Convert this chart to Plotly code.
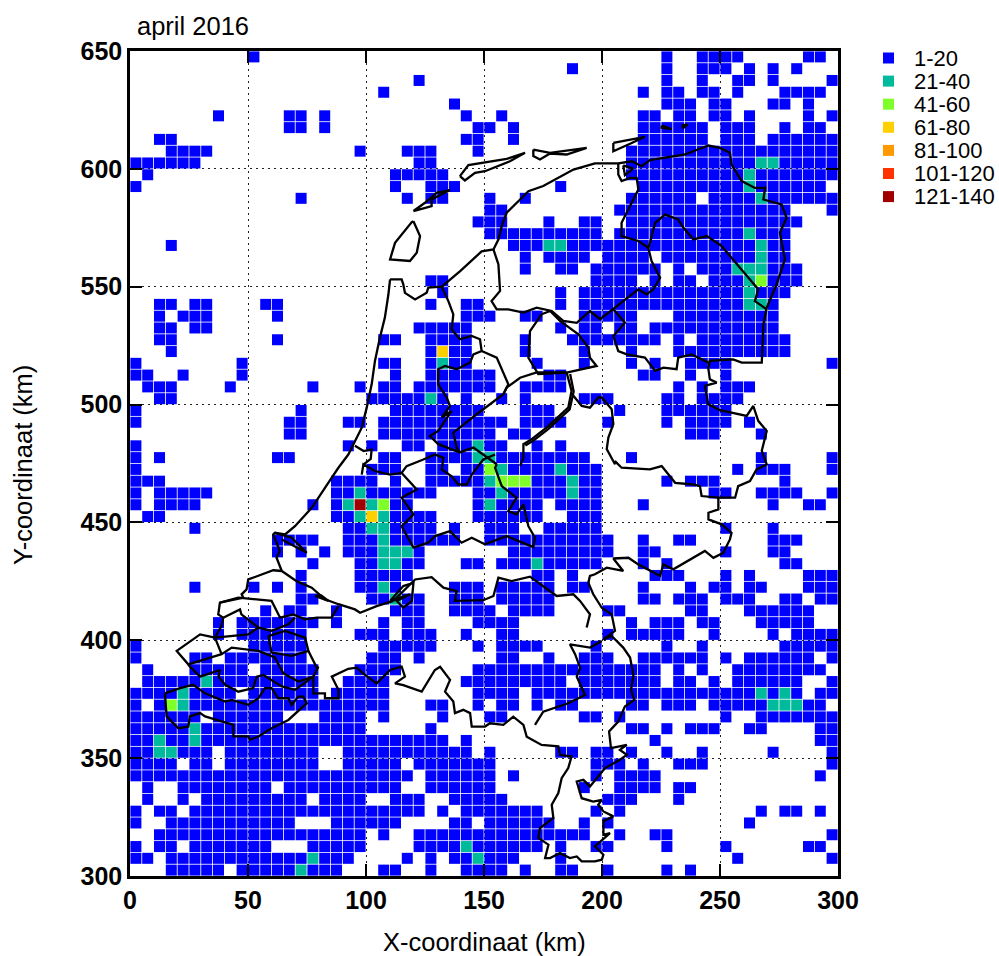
import plotly.graph_objects as go

# Cell size in km; columns count from x=0, rows count down from y=650.
CELL_KM = 5
class_labels = ["1-20", "21-40", "41-60", "61-80", "81-100", "101-120", "121-140"]
class_colors = ["#0000FF", "#00BB9B", "#7FFF2A", "#FFD000", "#FF9900", "#FF3300", "#A00000"]

# Occupied columns per row (top row first); values are column indices / ranges
occupied_rows = [
    "10 45 48-51 57 58", "37 45 48-50 52 54 56", "24 45 48 51 52 54 59", "21 43 45 46 48 49 51 55-58",
    "27 45-47 49 50 54 55 57", "7 13 14 16 28 31 43 44 46 47 49 50 52 57 59",
    "13 14 16 29 30 32 43-48 50-52 55 57 58", "2 3 28 29 32 43-48 50-52 54-59",
    "3-6 19 23-25 29 42-59", "0-5 24 25 42-59", "1 22-26 42-59", "0 22 25-27 36 43-58",
    "14 23 25 26 30 33 42-47 49-59", "30 31 41-55 59", "29-31 35 38 39 42-56", "30-39 41-55",
    "3 32-55", "33 35-38 40-43 45-55", "33 36 37 39-44 46 48-56", "25 26 39-42 44 46 47 49-56",
    "26 36 38-55", "2 3 5 6 11 12 25 28 29 36 38-54", "2 4-6 12 28-30 33 34 38-42 46-54",
    "2 3 5 6 24-28 36 38 39 41 42 44-54", "2 3 12 21 22 25-28 33 37-44 46 48-55",
    "3 25-28 33 38 42 46-55", "0 9 21 22 25-28 34 38 42 44 47-50 59", "0 1 4 9 22 25-30 35 36 43 44 47 50",
    "1-3 8 15 19 21 22 24-30 33-36 46 48 50-52", "2 3 20-26 28 31 33 38-40 45 46 48-51",
    "0 14 22-29 33-35 41 45-50", "0 13 14 18 19 21-31 33-36 40 45 47-50 52", "13 14 21-30 32 33 47-49 53",
    "0 18 20 23 24 26-31 34 36", "0 2 12 13 21 22 25-38 42 53 59",
    "0 20-22 25 26 28-39 51 53-55 59", "0-2 17-20 22 25-39 45 47-49 55",
    "0 2-6 17-25 29-39 49 50 53-56 59", "0 2-5 15 17-23 29-34 36-39 43 54 57 58",
    "1 2 17-25 29-34 37-39", "5 18-25 27 30-32 35-39 50 54", "12-15 18-27 30-40 43 46 47 54-56",
    "12 14 16 18-24 32-40 43 44 50 54 55", "15 19-24 28 29 31-39 43 45 55 56",
    "14 19-23 34 35 37 44-46 50 52 57-59", "5 10 12 14 19-22 27-29 31-35 37 38 43 47 49 50 52 53 57-59",
    "14 15 20-24 27-29 31-35 43 44 46-48 50-52 55 56 58 59", "11 13 14 17 22-24 27-30 32-35 40 41 47 48 52-57",
    "7 9-15 17 21 23 24 29-32 42 44-46 48 49 53-57", "7 9-14 19-21 23-25 28 31 32 40 42-46 49 54 56-59",
    "0 10-14 21-25 29 31-34 39 45 48 55-59", "0 5 6 8-14 20-22 24 31 32 35 38-40 43-48 50 52-57 59",
    "1 5-9 11-15 19-22 29-44 46 48 51-58", "1-15 18-21 28-36 38-44 46 47 49 51-56 59",
    "0-8 10-15 17-21 29-32 34-56 58 59", "0 2-21 25 26 29 31 32 34 36 37 42 43 45-47 49-58",
    "0-5 7-12 16-19 21 26 30 31 38 39 41 50 53-59", "0-19 25 42 43 45 47-49 52 53 58 59",
    "0-26 28 44 58 59", "0-6 8-15 18-28 30 36 37 39 40 42 45 48 54 59",
    "0-3 5 6 8-15 18-22 24-30 39-41 43 46-48 59", "0-23 25-30 32 39 41-44 58",
    "1 4-11 13-22 25-30 38 41-44 46 47", "1 4 6-14 16-19 22-24 27-31 40-42 46",
    "0 2 3 5-24 26 28-34 39 41 53 55 56 58", "0 3-13 17-22 27 28 30-35 38 40 52",
    "2-19 21 24-38 41 44 45 59", "0 2 3 5-11 15-19 24-34 36 39 40 45 50 57 58",
    "0 1 3-18 23 25 27-32 36 51 59", "3-7 9-17 21 22 25 28-31 33 36 37 40 45 47",
]
# Cells in the higher classes: (column, row)
class_21_40 = [(53,9),(54,9),(52,10),(52,11),(53,12),(52,15),(35,16),(36,16),(53,16),(53,17),(51,18),(52,18),(53,18),
               (52,19),(52,20),(52,21),(53,21),(26,26),(25,29),(29,33),(29,34),(30,34),(31,35),(36,35),(30,36),(37,36),
               (19,37),(31,37),(37,37),(18,38),(20,38),(30,38),(19,39),(21,39),(20,40),(21,40),(21,41),(21,42),(22,42),
               (23,42),(21,43),(22,43),(34,43),(21,45),(22,46),(6,53),(4,54),(53,54),(55,54),(4,55),(54,55),(55,55),
               (56,55),(5,57),(2,58),(5,58),(2,59),(3,59),(28,67),(15,68),(29,68),(14,69)]
class_41_60 = [(53,19),(30,35),(31,36),(32,36),(33,36),(21,38),(3,55)]
class_61_80 = [(26,25),(20,39)]
class_81_100 = []
class_101_120 = []
class_121_140 = [(19,38)]

# Outlines in km (x, y)
coast_holland = [(110.2,553.1),(109.5,546.8),(108,536.9),(105.9,528.4),(103.8,518.5),(102.4,508.6),(100.3,498.7),(98.2,490.2),
    (92.5,478.8),(88.3,473.2),(82.6,464.7),(77,456.2),(69.9,448.4),(65.7,444.9),(61.4,445.6),(60.7,444.9),(63.5,437.9),(62.1,435),(64.3,429.4)]
wadden_holland = [(110.2,553.1),(115.1,553.1),(115.8,551),(116.5,547.4),(120.8,544.6),(125.7,547.4),(126.4,549.6),(132.1,550),
    (139.9,556.6),(149,565),(154,565.8),(156.1,570),(157.5,575.7),(159.6,581.4),(165.3,587),(168.8,590.5),(175.1,592.7),
    (187.9,599.7),(197,602.3),(206.9,602.3),(212.6,603.2),(216.8,601.1),(220.3,603.7),(235.2,606.1),(245.1,609.9),(250,608.9),
    (254.2,606.8),(254.9,601.8),(259.2,594.8),(264.8,591.9),(269.1,591.9),(268.4,587),(276.1,584.9),(278.2,579.2),(275.4,572.9),
    (277.5,561.6),(274,551),(269.8,541.1),(268.4,534),(267.7,517.8),(259.2,517.8),(255.6,519.2),(245.7,518.5),(245,515.7),
    (245.7,510.7),(248.6,509.3),(243.6,507.9),(245,500.1),(250,497.6),(261.3,495.2),(264.1,499.4),(266.2,493.1),(269.8,488.8),
    (267.7,480.4),(269.8,474.6),(265.5,472.5),(262.7,467.5),(257.7,465.4),(256.4,460.5),(249.3,460.5),(249.3,455.5),(245.1,454.1),
    (245.1,451.3),(250.7,449.2),(254.9,445.6),(254.2,442.8),(251.4,437.1),(247.2,435),(243.6,437.9),(230.2,430.1),(226,432.2),
    (224.6,427.3),(215.4,432.2),(211.2,435),(204.8,434.7),(209,429.4),(202,430.8),(197,428),(194.9,427.3),(194.2,424.4),(196.3,419.5),
    (199.9,413.8),(204.1,411),(204.8,406.8),(205.5,404),(200.6,400.4),(204.1,401.8),(209,396.9),(211.9,392.7),(213.3,385.3),(212.3,379),
    (213.7,374.7),(209.7,371.9),(206.9,365.5),(203,361.3),(203.8,354.2),(210.5,355.6),(207.6,353.5),(210.5,351.4),(207.6,349.3),
    (201.3,345.8),(194.9,338),(192.1,340.8),(189.3,340.1),(191.4,333),(196.3,331.6),(199.9,332.3),(198.4,330.2),(200.6,327.4),
    (204.8,325.3),(200.6,323.2),(200.6,317.5),(203.4,318.2),(197,312.6),(200.6,309),(199.9,306.9),(197,306.2),(191.4,306.2),
    (189.3,308.3),(186.4,307.6),(182.2,309.7),(178,307.6),(175.9,307.6),(177.3,313.3),(173,316.1),(173.7,320.3),(179.4,324.6),
    (178.7,330.2),(181.5,335.2),(182.9,341.5),(185.7,345.8),(187.1,350.7),(182.2,351.4),(181.5,355),(174.4,355.6),(168.1,359.1),
    (166.7,364.1),(162.4,367.6),(158.2,364.1),(152.5,364.8),(150.4,363.4),(144.8,363.4),(144.1,369.1),(141.2,370.5),(137.7,369.1),
    (137,374),(133.5,378.2),(135.6,383.2),(131.4,388.8),(129.2,387.4),(123.6,378.2),(115.8,381),(112.3,381.7),(116.5,384.6),(115.1,388.8),
    (110.2,387.4),(104.5,381.7),(99.6,385.3),(96,388.4),(92.5,387.9),(85.5,384.6),(88.3,379),(88.3,375.4),(82.6,375.4),(82.6,377.5),
    (77.7,377.5),(77.7,384.6),(70,379),(64.3,380.4),(56.5,385.3),(53.7,384.6),(52.2,379.7),(45.9,378.2),(40.3,381.1),(37.5,384.6),
    (38.2,387.4),(29.7,384.6),(24.7,389.5)]
brabant_limburg = [(171.6,364.1),(175.1,369.7),(185.7,373.3),(192.8,376.8),(189.3,384.6),(190.7,388.4),(188.6,394.1),(186.4,398.3),(194.9,396.9),(199.9,399.7)]
zeeuws_vlaanderen = [(14.8,377.5),(15.5,367.7),(20.5,362.7),(24.7,363.4),(25.4,367.7),(29.7,369.1),(31.8,367.7),(43.8,364.1),(43.8,359.2),
    (50.1,359.2),(50.8,357.8),(54.4,359.2),(60,362.7),(67.1,366.2),(74.9,373.3),(73.4,376.1),(71.3,376.1),(68.5,372.6),(67.1,375.4),(62.8,375.4),
    (60,379.7),(57.2,379.7),(54.4,375.4),(50.1,372.6),(43.1,374.7),(40.3,374),(31.8,377.5),(26.8,381.1),(21.2,379.7),(14.8,377.5)]
delta_walcheren = [(36,401.1),(29.7,402.5),(19.8,395.5),(24.7,389.8),(38.8,394.1),(43.1,396.9),(54.4,395.5),(61.4,392.7),(63.6,388.4),(65,386),(71.3,382.5),(77.7,384.6)]
delta_schouwen = [(38.8,394.1),(36,401.1),(38.8,406.1),(39.5,409.6),(37.4,411),(38.1,416),(45.9,418.1),(54.4,417.4),(60,416.7),(63.6,409.6),(69.2,411),(74.2,408.9),(79.1,409.6),(85.4,409.6),(88.3,414.5)]
delta_beveland = [(36,401.1),(50.1,402.5),(54.4,405.4),(60,404),(67.1,406.8),(69.9,409.6)]
delta_flakkee = [(39.5,409.6),(46.6,413.1),(47.2,411),(54.4,405.4)]
delta_tholen = [(58.6,401.8),(60,394.8),(68.5,393.4),(75.6,395.5),(74.2,401.1),(65.7,404),(58.6,401.8)]
delta_link = [(75.6,395.5),(79.1,388.4),(79.8,388.8),(77.7,384.6)]
delta_goeree = [(38.1,416),(48,418.1),(47.3,419.5),(49.4,421.6),(50.1,425.8),(60.7,429.7),(64.3,429.4),(70.6,425.1),(77,422.3),(82.6,417.4),(88.3,415.3),(95.3,413.1),(97.5,411.7),(104.5,414.5),(111.6,416.7)]
delta_island = [(78.4,418.8),(84.1,416.7),(81,419),(78.4,418.8)]
waterweg = [(61.4,445.6),(68.5,443.5),(74.9,437.1),(64.3,442.8)]
biesbosch = [(110.2,416.7),(115.8,423),(120.1,424.4),(119.4,416.7),(115.8,413.8),(113,416.7),(118.6,419.5),(110.2,416.7)]
maas_waal = [(111.6,416.7),(120.8,425.8),(127.8,426.8),(132.8,422.3),(138.4,420.9),(137.7,416.7),(149.7,417),(154,418.8),(156.1,426.6),
    (161.7,425.1),(169.5,427),(180.8,418.8),(187.9,419.5),(190.7,416.7),(194.9,411),(193.5,405.4)]
utrecht_north = [(98.2,470.3),(98.9,474.6),(103.8,471.8),(110.2,470.3),(115.1,471),(121.5,464),(115.1,460.5),(120.1,453.4),(115.1,448.4),(120.1,439.3),
    (126.4,441.4),(129.2,444.2),(135.6,446.3),(140.5,441.4),(144.8,443.5),(150.4,440.7),(159.6,444.2),(170.9,439.5),(171.6,443.5),(168.8,448.4),
    (166.7,457.6),(163.8,453.4),(160.3,454.8),(163.8,460.5),(157.5,465.4),(154.7,473.2),(155.4,474.7)]
utrecht_top = [(115.1,471),(117.2,473.9),(124.3,476.7),(129.2,478.8),(132.8,477.4),(132.1,472.5),(136.3,469.6),(139.1,466.1),(142.7,466.1),(144.8,470.3),(149.7,476.7),(154.7,478.8)]
ijsselmeer_west = [(132.1,550),(134.9,543.9),(137,538.3),(136.3,531.9),(139.8,527.7),(144.8,529.1),(148.3,527.7),(149,522.7),(145.5,521.3),(144.1,517.8),
    (138.4,515),(133.5,516.4),(130.6,515),(130.6,508.6),(134.2,503),(135.6,499.4),(132.1,494.5),(136.3,497.3),(130.6,488.8),(127.1,486.7),(130.6,483.2),
    (139.8,479.7),(145.5,481.8),(155.4,474.7)]
flevoland = [(149,522.7),(155.4,519.9),(160.3,508.6),(158.2,504.4),(146.9,495.9),(137,488.1),(138.4,481.8),(139.8,479.7)]
flevoland_east = [(158.2,504.4),(159.6,507.2),(165.3,511.4),(172.3,513.6),(185,513.6)]
polder = [(174.4,538.3),(169.5,531.2),(168.8,519.9),(173,512.9),(185,513.6),(197.7,516.4),(194.9,519.9),(194.2,524.2),(190,529.8),(182.2,535.5),(178,539.7),(174.4,538.3)]
frisian_shore = [(154,565.8),(156.1,559.5),(156.8,548.2),(153.2,543.9),(155.4,540.4),(160.3,540.4),(166.7,539),(172.3,541.1),(178.7,539.7),(183.6,535.5),(189.3,534.7),
    (194.9,539.7),(199.2,536.2),(204.8,540.4),(209,543.9),(215.4,548.9),(218.9,546.8),(221.8,548.9),(224.6,553.8),(221,560.9),(219.6,566.5),(215.4,569.4),(208.3,571.5),
    (208.3,577.1),(211.2,582.8),(215.4,591.2),(214.7,596.2),(211.9,596.2),(208.3,594.8),(206.9,597.6),(206.9,602.3)]
drenthe_south = [(204.8,540.4),(209.7,534.7),(204.8,529.1),(206.9,522.7),(210.5,521.3),(218.2,519.9),(222.5,514.3),(226,515.7),(231.6,515),(232.3,519.9),(238,521.3),(245.1,517.8)]
groningen_south = [(219.6,566.5),(220.3,568.6),(222.5,577.1),(226.7,580.6),(232.3,578.5),(234.5,575),(238.7,570.1),(244.4,571.5),(250.7,567.2),(259.2,557.3),(266.2,548.9),(264.8,543.9),(269.8,540.4)]
ijssel = [(185,513.6),(187.1,505.8),(185.7,498.7),(176.6,490.3),(170.2,485.3),(166.7,483.2),(166.7,477.5),(165.3,474)]
ijssel_twin = [(186.5,513),(188,505.5),(186.3,498),(177.2,489.6),(170.8,484.6),(167.5,482.6)]
vecht = [(187.9,503.7),(191.4,499.4),(194.9,498.7),(198.4,503),(199.9,503),(204.1,498),(204.8,491.7),(202.7,486),(202,481.1),(205.5,474.7),(205.5,476),(208.3,473.2),
    (220.3,472.5),(225.3,473.9),(231,466.8),(238.7,466.1),(241.5,465.4),(242.2,461.2),(249.3,460.5)]
texel = [(120.1,577.8),(122.9,571.5),(121.5,564.4),(118.6,560.9),(110.2,561.6),(112.3,568.6),(119.4,577.4),(120.1,577.8)]
vlieland = [(120.1,582.1),(127.8,584.2),(127.8,587),(135.6,591),(129.9,589.8),(125,585.6),(120.1,582.1)]
terschelling = [(139.8,596.9),(143.4,601.6),(159.6,604.2),(167.4,606.8),(161,603.2),(150.4,599),(146.2,598.3),(141.9,595.1),(139.8,596.9)]
ameland = [(170.9,608.2),(178,606.8),(193.5,608.9),(185,606.1),(178,606.5),(173.7,604),(170.9,605.4),(170.9,608.2)]
schiermonnikoog = [(204.8,611),(218.2,613.6),(212.6,611),(204.8,607.5),(204.8,611)]
rottum = [(225.3,618.4),(229.5,616.9),(225.3,617.4),(225.3,618.4)]
simonszand = [(233.8,618.4),(236.3,618.8),(234.5,617.4),(233.8,618.4)]
ij_canal = [(95.3,482.5),(99,480.3),(102.4,481),(102,477),(99,474.6)]
lauwersmeer = [(209,601.5),(209.7,597.3),(213.2,600.1),(209,601.5)]
outlines = [coast_holland, wadden_holland, brabant_limburg, zeeuws_vlaanderen, delta_walcheren, delta_schouwen, delta_beveland,
            delta_flakkee, delta_tholen, delta_link, delta_goeree, delta_island, waterweg, biesbosch, maas_waal, utrecht_north,
            utrecht_top, ijsselmeer_west, flevoland, flevoland_east, polder, frisian_shore, drenthe_south, groningen_south, ijssel,
            ijssel_twin, vecht, texel, vlieland, terschelling, ameland, schiermonnikoog, rottum, simonszand, ij_canal, lauwersmeer]


def parse_row(spec):
    cols = []
    for part in spec.split():
        if "-" in part:
            a, b = part.split("-")
            cols.extend(range(int(a), int(b) + 1))
        else:
            cols.append(int(part))
    return cols


higher = [class_21_40, class_41_60, class_61_80, class_81_100, class_101_120, class_121_140]
cell_class = {}
for r, spec in enumerate(occupied_rows):
    for c in parse_row(spec):
        cell_class[(c, r)] = 0
for k, cells in enumerate(higher, start=1):
    for cell in cells:
        cell_class[cell] = k

fig = go.Figure()
for k, label in enumerate(class_labels):
    cells = [cell for cell, v in cell_class.items() if v == k]
    fig.add_trace(go.Scatter(
        x=[CELL_KM * (c + 0.5) for c, r in cells],
        y=[650 - CELL_KM * (r + 0.5) for c, r in cells],
        mode="markers", name=label, showlegend=False,
        marker=dict(symbol="square", size=11, color=class_colors[k], line=dict(width=0)),
    ))

line_x, line_y = [], []
for path in outlines:
    line_x += [p[0] for p in path] + [None]
    line_y += [p[1] for p in path] + [None]
fig.add_trace(go.Scatter(x=line_x, y=line_y, mode="lines", showlegend=False,
                         line=dict(color="black", width=2.3), hoverinfo="skip"))

FONT = "Liberation Sans"
PX0, PX1, PY0, PY1 = 130, 838, 51, 876
axis_common = dict(
    showline=True, linecolor="black", linewidth=2.5, mirror="ticks", ticks="inside", ticklen=12, tickwidth=2,
    tickcolor="black", showgrid=True, gridcolor="#222222", griddash="2px,4px", gridwidth=1, zeroline=False,
    automargin=False, tickfont=dict(family=FONT, size=25, color="black", weight="bold"),
)
fig.update_xaxes(range=[0, 300], tickvals=[0, 50, 100, 150, 200, 250, 300], **axis_common)
fig.update_yaxes(range=[300, 650], tickvals=[300, 350, 400, 450, 500, 550, 600, 650], **axis_common)

shapes, annos = [], []
for i, (label, color) in enumerate(zip(class_labels, class_colors)):
    py = 58 + 23.1 * i
    yc = (PY1 - py) / (PY1 - PY0)
    shapes.append(dict(type="rect", xref="paper", yref="paper", line=dict(width=0), fillcolor=color,
                       x0=(883 - PX0) / (PX1 - PX0), x1=(894 - PX0) / (PX1 - PX0),
                       y0=yc - 5.5 / (PY1 - PY0), y1=yc + 5.5 / (PY1 - PY0)))
    annos.append(dict(text=label, xref="paper", yref="paper", x=(912 - PX0) / (PX1 - PX0), y=yc,
                      xanchor="left", yanchor="middle", showarrow=False, align="left",
                      font=dict(family=FONT, size=22, color="black")))
annos.append(dict(text="X-coordinaat (km)", xref="paper", yref="paper", x=(484 - PX0) / (PX1 - PX0),
                  y=(PY1 - 942) / (PY1 - PY0), xanchor="center", yanchor="middle", showarrow=False,
                  font=dict(family=FONT, size=25.5, color="black")))
annos.append(dict(text="Y-coordinaat (km)", xref="paper", yref="paper", x=(23 - PX0) / (PX1 - PX0),
                  y=(PY1 - 465) / (PY1 - PY0), xanchor="center", yanchor="middle", showarrow=False, textangle=-90,
                  font=dict(family=FONT, size=25.5, color="black")))

fig.update_layout(
    width=999, height=956, autosize=False, plot_bgcolor="white", paper_bgcolor="white",
    margin=dict(l=PX0, r=999 - PX1, t=PY0, b=956 - PY1, pad=0),
    title=dict(text="april 2016", x=137 / 999, xanchor="left", y=1 - 26 / 956, yanchor="middle",
               font=dict(family=FONT, size=25.5, color="black")),
    shapes=shapes, annotations=annos,
)
fig.write_html("out.html", config={"displayModeBar": False},
               post_script="document.body.style.margin='0';document.documentElement.style.overflow='hidden';")
